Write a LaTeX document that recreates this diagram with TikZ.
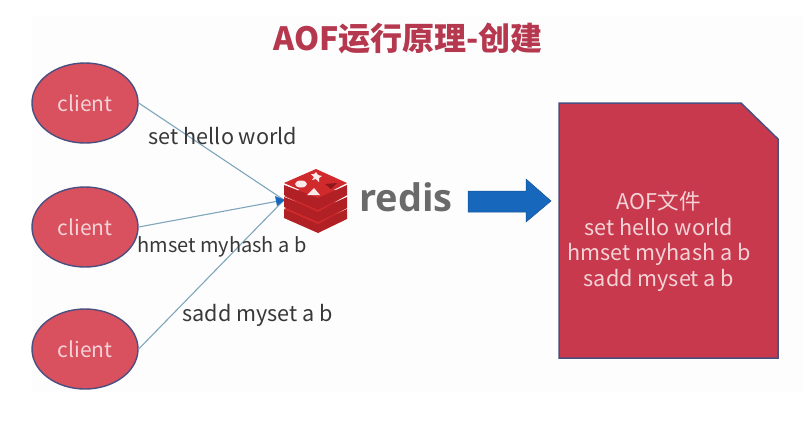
\documentclass[tikz,border=0pt]{standalone}
\usepackage{fontspec}
\setmainfont{Noto Sans CJK SC}
\newfontfamily\logofont{Open Sans}
\usetikzlibrary{shapes.geometric,arrows.meta}
\definecolor{panelbg}{HTML}{FDFDFD}
\definecolor{titlered}{HTML}{B5384F}
\definecolor{clientfill}{HTML}{D9505F}
\definecolor{edgeblue}{HTML}{4A4F80}
\definecolor{docfill}{HTML}{C8394E}
\definecolor{linkblue}{HTML}{7FA6BC}
\definecolor{arrowblue}{HTML}{1768BC}
\definecolor{logored}{HTML}{D02A2C}
\definecolor{logodark}{HTML}{B02024}
\definecolor{logogray}{HTML}{6A6A6A}
\definecolor{softtext}{HTML}{F3D3D6}
\tikzset{
  clientnode/.style={ellipse,draw=edgeblue,line width=1.4pt,fill=clientfill,minimum width=106pt,minimum height=80pt,inner sep=0pt,text=softtext,font=\fontsize{21}{24}\selectfont},
  linklabel/.style={text=black!78,font=\fontsize{21.6}{25}\selectfont,inner sep=0pt},
  linkline/.style={draw=linkblue,line width=1.1pt},
  doctext/.style={text=softtext,font=\fontsize{21.6}{25.5}\selectfont,align=center,inner sep=0pt}
}
\begin{document}
\begin{tikzpicture}[x=1pt,y=-1pt]
\useasboundingbox (0,0) rectangle (803,421);
\fill[white] (0,0) rectangle (803,421);
\fill[panelbg] (32,16) rectangle (803,392);
\node[text=titlered,font=\bfseries\fontsize{32}{36}\selectfont,inner sep=0pt] (title) at (408,39) {AOF运行原理-创建};
\node[clientnode] (c1) at (85,103) {client};
\node[clientnode] (c2) at (85,227) {client};
\node[clientnode] (c3) at (85,349) {client};
\coordinate (hub) at (284,200);
\draw[linkline] (c1.east) -- (hub);
\draw[linkline] (c2.east) -- (hub);
\draw[linkline] (c3.east) -- (hub);
\fill[arrowblue] (275,196) -- (285,200) -- (277,206) -- cycle;
\node[linklabel] (l1) at (223,136) {set hello world};
\node[linklabel,font=\fontsize{20}{24}\selectfont] (l2) at (222,247) {hmset myhash a b};
\node[linklabel] (l3) at (257.5,315) {sadd myset a b};
% redis logo
\fill[logodark] (284,209) -- (318,222) -- (347,209) -- (347,219) -- (318,233) -- (284,218) -- cycle;
\fill[logored] (284,209) -- (318,195) -- (347,208) -- (318,224) -- cycle;
\fill[logodark] (284,197) -- (318,210) -- (347,197) -- (347,208) -- (318,222) -- (284,207) -- cycle;
\fill[logored] (284,196) -- (318,183) -- (347,195) -- (318,212) -- cycle;
\fill[logodark] (284,185) -- (318,198) -- (347,185) -- (347,195) -- (318,210) -- (284,195) -- cycle;
\fill[logored] (284,183) -- (316,169) -- (347,183) -- (318,198) -- cycle;
\fill[white!90!logored] (301,184) ellipse (6pt and 3.5pt);
\fill[white!90!logored] (307,195) -- (314,188) -- (320,195) -- cycle;
\fill[white!90!logored] (316,172) -- (318,175) -- (322,176) -- (319,178) -- (319,182) -- (316,179) -- (312,180) -- (314,177) -- (311,174) -- (314,174) -- cycle;
\fill[logodark!80!black] (325,184) -- (337,183) -- (331,189) -- cycle;
\node[text=logogray,font=\logofont\bfseries\fontsize{38}{42}\selectfont,inner sep=0pt] (logo) at (406,197) {redis};
% block arrow
\fill[arrowblue,draw=arrowblue!80!black,line width=.5pt] (468,191) -- (526,191) -- (526,179) -- (551,201) -- (526,222) -- (526,212) -- (468,212) -- cycle;
% file
\draw[draw=edgeblue,line width=1.5pt,fill=docfill] (559,103) -- (741,103) -- (778,139) -- (778,358) -- (559,358) -- cycle;
\node[doctext] (doc) at (659,241.5) {AOF文件\\set hello world\\hmset myhash a b\\sadd myset a b};
\end{tikzpicture}
\end{document}
